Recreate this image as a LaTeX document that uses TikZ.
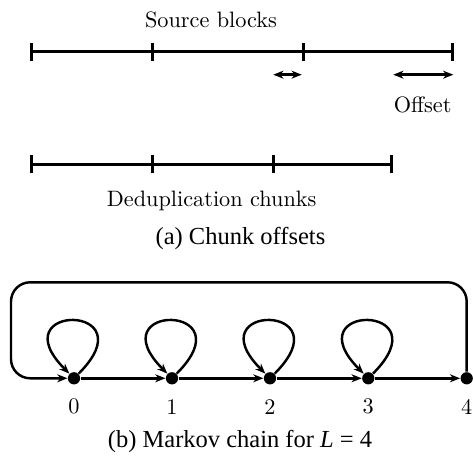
\documentclass[tikz,border=0pt]{standalone}
\usepackage{fontspec}
\newfontfamily\timesfam{Liberation Serif}
\usetikzlibrary{arrows.meta}
\begin{document}
\begin{tikzpicture}[x=0.449pt,y=0.449pt,
  bar/.style={line width=1.1pt},
  arr/.style={line width=1.1pt,-{Stealth[length=4.6pt,width=3.6pt]}},
  darr/.style={line width=1.1pt,{Stealth[length=4.6pt,width=3.6pt]}-{Stealth[length=4.6pt,width=3.6pt]}},
  dot/.style={circle,fill=black,inner sep=0pt,minimum size=5.5pt},
  lbl/.style={inner sep=0pt,font=\fontsize{10}{12}\selectfont},
  captxt/.style={inner sep=0pt,font=\timesfam\fontsize{11}{13}\selectfont}]
\useasboundingbox (0,0) rectangle (473,456);
% source blocks
\foreach \n/\x in {s0/31.7,s1/152.3,s2/303.3,s3/452.3}{
  \coordinate (\n) at (\x,404.3);
  \draw[bar] (\x,395.3) -- (\x,413.3);
}
\draw[bar] (s0) -- (s3);
\node[lbl] (srclbl) at (211,436) {Source blocks};
\coordinate (a1) at (273.3,381.3);
\coordinate (a2) at (301.7,381.3);
\coordinate (b1) at (393.3,381.3);
\coordinate (b2) at (453.3,381.3);
\draw[darr] (a1) -- (a2);
\draw[darr] (b1) -- (b2);
\node[lbl] (offlbl) at (422.7,351) {Offset};
% dedup chunks
\foreach \n/\x in {d0/31.7,d1/152.3,d2/273.3,d3/391.7}{
  \coordinate (\n) at (\x,291.7);
  \draw[bar] (\x,282.7) -- (\x,300.7);
}
\draw[bar] (d0) -- (d3);
\node[lbl] (deduplbl) at (211.7,255) {Deduplication chunks};
\node[captxt] (capa) at (240.5,218) {(a) Chunk offsets};
% markov chain
\foreach \i/\x in {0/74,1/172,2/270,3/368.3,4/466.7}{
  \node[dot] (n\i) at (\x,77.7) {};
  \node[lbl] (l\i) at (\x,49.3) {\i};
}
\foreach \i/\j in {0/1,1/2,2/3,3/4}{
  \draw[arr] (n\i) -- (n\j);
}
\foreach \i in {0,1,2,3}{
  \draw[arr] (n\i) to[out=45,in=135,looseness=1,min distance=45pt] (n\i);
}
\coordinate (tr) at (466.7,173.7);
\coordinate (tl) at (11,173.7);
\coordinate (bl) at (11,77.7);
\draw[arr,rounded corners=8.6pt] (n4) -- (tr) -- (tl) -- (bl) -- (n0);
\node[captxt] (capb) at (240,14.3) {(b) Markov chain for {\itshape L} = 4};
\end{tikzpicture}
\end{document}
